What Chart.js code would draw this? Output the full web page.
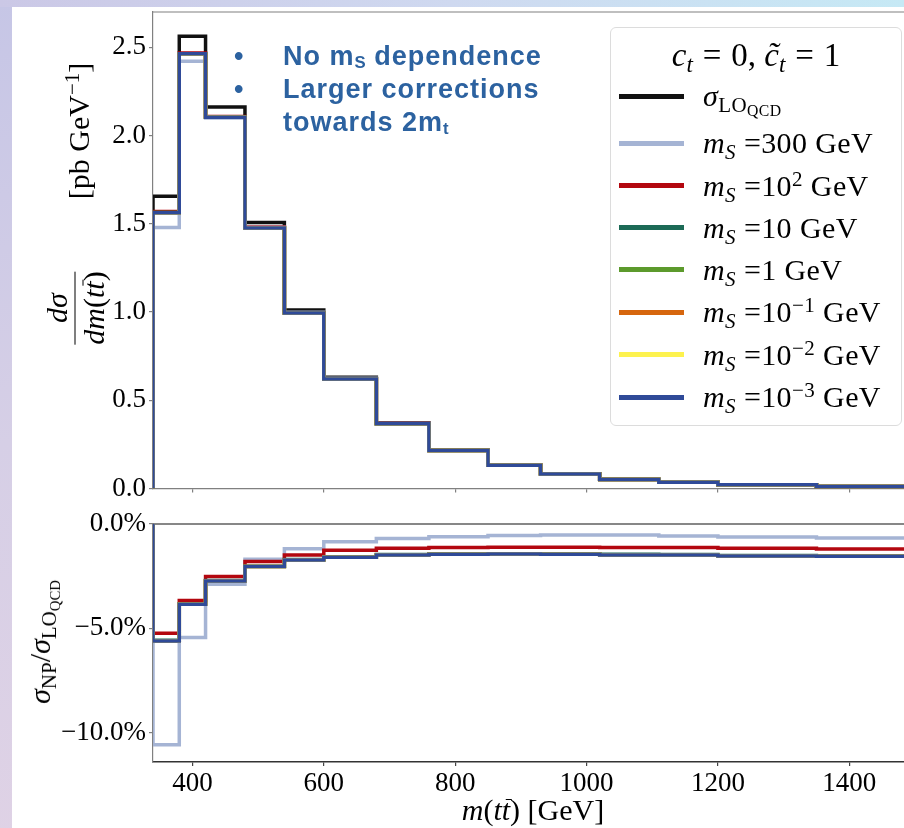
<!DOCTYPE html>
<html>
<head>
<meta charset="utf-8">
<script src="https://cdn.jsdelivr.net/npm/chart.js@4.4.1/dist/chart.umd.min.js"></script>
<style>
    body { margin: 0; width: 904px; height: 828px; overflow: hidden; position: relative;
           background: linear-gradient(170deg, #c6c6e6 0%, #d6cfe6 45%, #e2d3e5 100%); }
    #topstrip { position: absolute; left: 0; top: 0; width: 904px; height: 7px;
                background: linear-gradient(90deg, #cbc8e6 0%, #cfd9f0 50%, #c6e9f5 100%); }
    #sheet { position: absolute; left: 12px; top: 7px; right: 0; bottom: 0; background: #fff; }
    canvas { position: absolute; left: 0; }
    #chart_xs { top: 0; }
    #chart_ratio { top: 500px; }
    .math { font-family: 'Liberation Serif', serif; color: #000; white-space: nowrap; }
    .rot { position: absolute; transform: translate(-50%, -50%) rotate(-90deg); line-height: 1; }
    .cen { position: absolute; transform: translate(-50%, -50%); line-height: 1; }
    sub, sup { font-size: 0.7em; line-height: 0; }
    sub { vertical-align: -0.28em; }
    sup { vertical-align: 0.5em; }
    .ov { position: relative; }
    .ov::after { content: ''; position: absolute; left: 0.14em; right: -0.04em; top: 0.2em;
                 border-top: 1.5px solid #000; }
    .frac { display: inline-flex; flex-direction: column; align-items: center; }
    .frac .den { border-top: 1.5px solid #000; padding-top: 3px; }
    .frac .num { padding-bottom: 3px; }
    .sp { margin: 0 0.3em; }
    #note { position: absolute; left: 0; top: 0; font-family: 'Liberation Sans', Arial, sans-serif;
            font-weight: bold; font-size: 27px; color: #2c62a0; letter-spacing: 1px; }
    #note div { position: absolute; white-space: nowrap; line-height: 27px; }
    #note sub { font-size: 0.62em; vertical-align: -0.2em; letter-spacing: 0; }
    #legend { position: absolute; left: 610px; top: 27px; width: 290px; height: 397px;
              border: 1px solid #dcdcdc; border-radius: 6px; background: rgba(255,255,255,0.85); }
    .lkey { position: absolute; left: 8px; width: 65px; height: 5px; }
    .ltxt { position: absolute; left: 92px; height: 30px; line-height: 30px; font-size: 30px; letter-spacing: 0.4px; }
</style>
</head>
<body>
<div id="topstrip"></div>
<div id="sheet"></div>
<canvas id="chart_xs" width="960" height="500"></canvas>
<canvas id="chart_ratio" width="960" height="328"></canvas>

<div id="note">
    <div style="left:234px; top:43px">•</div>
    <div style="left:283px; top:43px">No m<sub>S</sub> dependence</div>
    <div style="left:234px; top:76px">•</div>
    <div style="left:283px; top:76px">Larger corrections</div>
    <div style="left:283px; top:109px">towards 2m<sub>t</sub></div>
</div>

<div class="math rot" style="left:75px; top:308px; font-size:30px">
    <span class="frac"><span class="num"><i>dσ</i></span><span class="den"><i>dm</i>(<i>t</i><span class="ov"><i>t</i></span>)</span></span>
</div>
<div class="math rot" style="left:79px; top:131px; font-size:30px">[pb GeV<sup>−1</sup>]</div>
<div class="math rot" style="left:40px; top:642px; font-size:30px"><i>σ</i><sub>NP</sub>/<i>σ</i><sub>LO<sub>QCD</sub></sub></div>
<div class="math cen" style="left:533px; top:810px; font-size:30px"><i>m</i>(<i>t</i><span class="ov"><i>t</i></span>)&nbsp;[GeV]</div>

<div id="legend" class="math">
    <div class="cen" style="left:145px; top:27px; font-size:33px"><i>c<sub>t</sub></i><span class="sp">=</span>0,&nbsp;<i>c&#771;<sub>t</sub></i><span class="sp">=</span>1</div>
</div>

<script>
// m(tt) bin edges [GeV]
const bin_edges = [340, 380, 420, 480, 540, 600, 680, 760, 850, 930, 1020, 1110, 1200, 1350, 1500]

// dsigma/dm(tt) [pb/GeV]
const xs_lo      = [1.656, 2.562, 2.162, 1.507, 1.011, 0.630, 0.373, 0.218, 0.134, 0.084, 0.052, 0.0365, 0.0215, 0.0113]
const xs_ms300   = [1.479, 2.421, 2.099, 1.482, 0.999, 0.625, 0.370, 0.2167, 0.1333, 0.0836, 0.0517, 0.0363, 0.0214, 0.0112]
const xs_ms100   = [1.570, 2.468, 2.108, 1.480, 0.996, 0.622, 0.3687, 0.2156, 0.1325, 0.0831, 0.0514, 0.0361, 0.0212, 0.0112]
const xs_ms10    = [1.564, 2.464, 2.104, 1.477, 0.994, 0.620, 0.3676, 0.2149, 0.1321, 0.0828, 0.0512, 0.0360, 0.0212, 0.0111]
const xs_ms1     = [1.564, 2.464, 2.103, 1.476, 0.994, 0.620, 0.3675, 0.2149, 0.1321, 0.0828, 0.0512, 0.0360, 0.0212, 0.0111]
const xs_ms0p1   = [1.563, 2.464, 2.103, 1.476, 0.994, 0.620, 0.3675, 0.2149, 0.1321, 0.0828, 0.0512, 0.0360, 0.0212, 0.0111]
const xs_ms0p01  = [1.563, 2.464, 2.103, 1.476, 0.994, 0.620, 0.3675, 0.2149, 0.1321, 0.0828, 0.0512, 0.0360, 0.0212, 0.0111]
const xs_ms0p001 = [1.563, 2.464, 2.103, 1.476, 0.994, 0.620, 0.3675, 0.2149, 0.1321, 0.0828, 0.0512, 0.0360, 0.0212, 0.0111]

// sigma_NP / sigma_LO [%]
const ratio_ms300   = [-10.57, -5.44, -2.89, -1.69, -1.18, -0.85, -0.70, -0.61, -0.55, -0.53, -0.53, -0.57, -0.62, -0.67]
const ratio_ms100   = [-5.23, -3.67, -2.52, -1.80, -1.48, -1.26, -1.16, -1.12, -1.11, -1.11, -1.13, -1.13, -1.16, -1.20]
const ratio_ms10    = [-5.57, -3.82, -2.71, -2.02, -1.70, -1.57, -1.46, -1.43, -1.42, -1.42, -1.45, -1.46, -1.51, -1.53]
const ratio_ms1     = [-5.59, -3.83, -2.72, -2.03, -1.71, -1.58, -1.47, -1.44, -1.43, -1.44, -1.47, -1.47, -1.52, -1.54]
const ratio_ms0p1   = [-5.60, -3.84, -2.73, -2.04, -1.72, -1.59, -1.48, -1.45, -1.44, -1.45, -1.48, -1.48, -1.53, -1.55]
const ratio_ms0p01  = [-5.60, -3.84, -2.73, -2.04, -1.72, -1.59, -1.48, -1.45, -1.44, -1.45, -1.48, -1.48, -1.53, -1.55]
const ratio_ms0p001 = [-5.60, -3.84, -2.73, -2.04, -1.72, -1.59, -1.48, -1.45, -1.44, -1.45, -1.48, -1.48, -1.53, -1.55]

// tick labels
const x_ticks = [400, 600, 800, 1000, 1200, 1400]
const xs_ticks = [0.0, 0.5, 1.0, 1.5, 2.0, 2.5]
const ratio_ticks = [0, -5, -10]

// legend labels and colours
const series_labels = [
    '<i>σ</i><sub>LO<sub style="font-size:0.75em">QCD</sub></sub>',
    '<i>m<sub>S</sub></i> =300 GeV',
    '<i>m<sub>S</sub></i> =10<sup>2</sup> GeV',
    '<i>m<sub>S</sub></i> =10 GeV',
    '<i>m<sub>S</sub></i> =1 GeV',
    '<i>m<sub>S</sub></i> =10<sup>−1</sup> GeV',
    '<i>m<sub>S</sub></i> =10<sup>−2</sup> GeV',
    '<i>m<sub>S</sub></i> =10<sup>−3</sup> GeV'
]
const series_colors = ['#111111', '#a5b4d4', '#b3070f', '#1c6a56', '#5c9a2c', '#d6660e', '#fdf24e', '#2f4a98']

const xs_series = [xs_lo, xs_ms300, xs_ms100, xs_ms10, xs_ms1, xs_ms0p1, xs_ms0p01, xs_ms0p001]
const ratio_series = [ratio_ms300, ratio_ms100, ratio_ms10, ratio_ms1, ratio_ms0p1, ratio_ms0p01, ratio_ms0p001]

const tick_font = { family: 'Liberation Serif', size: 27 }

// histogram as step line starting from zero at the first edge
function step_points(values) {
    const points = [{ x: bin_edges[0], y: 0 }]
    values.forEach((v, i) => points.push({ x: bin_edges[i], y: v }))
    points.push({ x: bin_edges[bin_edges.length - 1], y: values[values.length - 1] })
    return points
}

function make_dataset(values, color, idx) {
    return {
        data: step_points(values),
        borderColor: color,
        borderWidth: 3.5,
        stepped: 'before',
        pointRadius: 0,
        fill: false,
        order: 20 - idx   // later series on top, like matplotlib
    }
}

function fixed_ticks(list) {
    return function (scale) {
        scale.ticks = list.map((v) => ({ value: v }))
    }
}

// keep the chart area exactly where the axes are sized
function fit_y(width) {
    return function (s) {
        s.width = width
        s.paddingTop = 0
        s.paddingBottom = 0
    }
}
function fit_x(height) {
    return function (s) {
        s.height = height
        s.paddingLeft = 0
        s.paddingRight = 0
    }
}

// axes frame (top/right spines)
function frame_plugin(top_color, side_color) {
    return {
        id: 'frame',
        beforeDatasetsDraw(chart) {
            const a = chart.chartArea
            const ctx = chart.ctx
            ctx.save()
            ctx.lineWidth = 1.2
            ctx.strokeStyle = side_color
            ctx.beginPath()
            ctx.moveTo(a.right, a.top)
            ctx.lineTo(a.right, a.bottom)
            ctx.stroke()
            ctx.strokeStyle = top_color
            ctx.beginPath()
            ctx.moveTo(a.left, a.top)
            ctx.lineTo(a.right, a.top)
            ctx.stroke()
            ctx.restore()
        }
    }
}

const chart_xs = new Chart(document.getElementById('chart_xs'), {
    type: 'line',
    data: { datasets: xs_series.map((v, i) => make_dataset(v, series_colors[i], i)) },
    options: {
        responsive: false,
        animation: false,
        layout: { padding: { top: 12, right: 45, bottom: 0, left: 0 } },
        plugins: { legend: { display: false }, tooltip: { enabled: false } },
        scales: {
            x: {
                type: 'linear', min: 340, max: 1500,
                afterBuildTicks: fixed_ticks(x_ticks),
                afterFit: fit_x(11.5),
                ticks: { display: false },
                grid: { drawOnChartArea: false, tickLength: 4, color: '#808080', lineWidth: 1.2 },
                border: { color: '#808080', width: 1.2 }
            },
            y: {
                type: 'linear', min: 0, max: 2.7,
                afterBuildTicks: fixed_ticks(xs_ticks),
                afterFit: fit_y(153),
                ticks: { font: tick_font, color: '#000', padding: 3, callback: (v) => v.toFixed(1) },
                grid: { drawOnChartArea: false, tickLength: 4, color: '#808080', lineWidth: 1.2 },
                border: { color: '#808080', width: 1.2 }
            }
        }
    },
    plugins: [frame_plugin('#808080', '#808080')]
})

const chart_ratio = new Chart(document.getElementById('chart_ratio'), {
    type: 'line',
    data: { datasets: ratio_series.map((v, i) => make_dataset(v, series_colors[i + 1], i + 1)) },
    options: {
        responsive: false,
        animation: false,
        layout: { padding: { top: 24, right: 45, bottom: 0, left: 0 } },
        plugins: { legend: { display: false }, tooltip: { enabled: false } },
        scales: {
            x: {
                type: 'linear', min: 340, max: 1500,
                afterBuildTicks: fixed_ticks(x_ticks),
                afterFit: fit_x(66),
                ticks: { font: tick_font, color: '#000', padding: 2, maxRotation: 0, callback: (v) => String(v) },
                grid: { drawOnChartArea: false, tickLength: 4, color: '#444', lineWidth: 1.2 },
                border: { color: '#333', width: 1.4 }
            },
            y: {
                type: 'linear', min: -11.4, max: 0,
                afterBuildTicks: fixed_ticks(ratio_ticks),
                afterFit: fit_y(153),
                ticks: {
                    font: tick_font, color: '#000', padding: 3,
                    callback: (v) => (v < 0 ? '\u2212' : '') + Math.abs(v).toFixed(1) + '%'
                },
                grid: { drawOnChartArea: false, tickLength: 4, color: '#808080', lineWidth: 1.2 },
                border: { color: '#808080', width: 1.2 }
            }
        }
    },
    plugins: [frame_plugin('#111111', '#808080')]
})

// legend rows
function legend_build() {
    const box = document.getElementById('legend')
    const row_y = [68, 115, 157.5, 199.5, 241.5, 284, 326.5, 369]
    series_labels.forEach((label, i) => {
        const key = document.createElement('div')
        key.className = 'lkey'
        key.style.top = (row_y[i] - 2.5) + 'px'
        key.style.background = series_colors[i]
        box.appendChild(key)
        const txt = document.createElement('div')
        txt.className = 'ltxt'
        txt.style.top = (row_y[i] - 15) + 'px'
        txt.innerHTML = label
        box.appendChild(txt)
    })
}
legend_build()
</script>
</body>
</html>
